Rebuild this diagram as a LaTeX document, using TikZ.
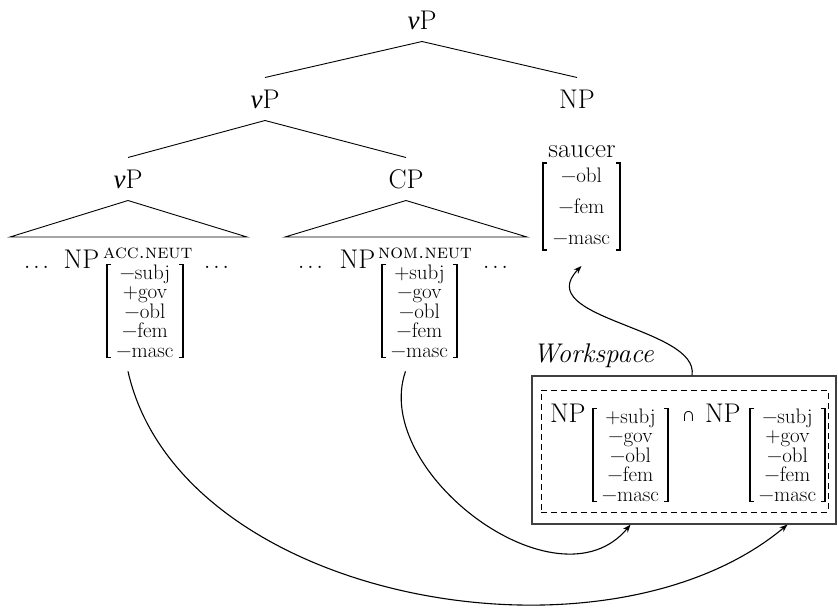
\documentclass[tikz,border=0pt]{standalone}
\usepackage{fontspec}
\newfontfamily\greekfont{Liberation Serif}
\usetikzlibrary{arrows.meta}

\newcommand\mainsz{\fontsize{27}{32}\selectfont}
\newcommand\featsz{\fontsize{21}{19.5}\selectfont}
\newcommand\supsz{\fontsize{20}{24}\selectfont}
\newcommand\littlev{{\greekfont\itshape ν}}
\newcommand\threedots{.\kern2.6pt.\kern2.6pt.}

\tikzset{
  lab/.style={font=\mainsz, inner sep=0pt, outer xsep=0pt, outer ysep=12pt,
    text height=19pt, text depth=0pt},
  txt/.style={font=\mainsz, inner sep=0pt, outer sep=0pt},
  sup/.style={font=\supsz, inner sep=0pt, anchor=base west},
  feat/.style={font=\featsz, align=center, inner sep=0pt, outer sep=0pt},
  branch/.style={line width=0.9pt, line join=miter},
  bracket/.style={line width=1.3pt},
  move/.style={line width=1.1pt, -{Stealth[length=8pt,width=6pt]}},
}

% square brackets drawn round a feature node
\newcommand\bracketsfor[1]{%
  \draw[bracket] ([xshift=4pt]#1.north west) -- (#1.north west)
    -- (#1.south west) -- ([xshift=4pt]#1.south west);
  \draw[bracket] ([xshift=-4pt]#1.north east) -- (#1.north east)
    -- (#1.south east) -- ([xshift=-4pt]#1.south east);}

\begin{document}
\begin{tikzpicture}[x=1pt,y=-1pt]
\useasboundingbox (0,0) rectangle (838,610);

% tree
\node[lab] (vp1) at (422,20) {\littlev P};
\node[lab] (vp2) at (265,99) {\littlev P};
\node[lab] (np2) at (577,99) {NP};
\node[lab] (vp3) at (128,179) {\littlev P};
\node[lab] (cp)  at (406,179) {CP};
\draw[branch] (vp1.south) -- (vp2.north);
\draw[branch] (vp1.south) -- (np2.north);
\draw[branch] (vp2.south) -- (vp3.north);
\draw[branch] (vp2.south) -- (cp.north);
\draw[branch] (vp3.south) -- ++(-118,36.5) -- ++(237,0) -- cycle;
\draw[branch] (cp.south) -- ++(-121,36.5) -- ++(242,0) -- cycle;

% accusative object
\node[txt, anchor=base] (dA1) at (36.5,268) {\threedots};
\node[txt, anchor=base] (npA) at (81.5,268) {NP};
\node[sup] (supA) at (103,258) {\scshape acc.neut};
\node[feat, minimum width=76pt, minimum height=88pt] (fA) at (145,311)
  {−subj\\+gov\\−obl\\−fem\\−masc};
\node[txt, anchor=base] (dA2) at (216.5,268) {\threedots};
\bracketsfor{fA}

% nominative subject
\node[txt, anchor=base] (dN1) at (310.5,268) {\threedots};
\node[txt, anchor=base] (npN) at (357.5,268) {NP};
\node[sup] (supN) at (378,258) {\scshape nom.neut};
\node[feat, minimum width=75pt, minimum height=88pt] (fN) at (419.5,311)
  {+subj\\−gov\\−obl\\−fem\\−masc};
\node[txt, anchor=base] (dN2) at (495.5,268) {\threedots};
\bracketsfor{fN}

% merged noun
\node[txt, anchor=base] (sc) at (582,157) {saucer};
\node[feat, font=\fontsize{21}{31}\selectfont, minimum width=77pt,
  minimum height=87pt] (fS) at (581.5,206.5) {−obl\\−fem\\−masc};
\bracketsfor{fS}

% workspace
\node[draw=black!75, line width=1.2pt, minimum width=304pt,
  minimum height=148pt, inner sep=0pt] (ws) at (684,450) {};
\node[draw, dashed, dash pattern=on 6pt off 4pt, line width=0.9pt,
  minimum width=287pt, minimum height=122pt, inner sep=0pt] (wsd) at (684.5,451) {};
\node[font=\mainsz\itshape, inner sep=0pt, anchor=base west] (wslab) at (533,362) {Workspace};
\node[txt, anchor=base west] (npW1) at (550,422) {NP};
\node[feat, minimum width=75pt, minimum height=90pt] (fW1) at (630.5,455)
  {+subj\\−gov\\−obl\\−fem\\−masc};
\node[font=\fontsize{20}{24}\greekfont, inner sep=0pt, anchor=base] (cap) at (688.5,421) {∩};
\node[txt, anchor=base west] (npW2) at (705,422) {NP};
\node[feat, minimum width=75pt, minimum height=90pt] (fW2) at (787.5,455)
  {−subj\\+gov\\−obl\\−fem\\−masc};
\bracketsfor{fW1}
\bracketsfor{fW2}

% copying into the workspace and merging back
\draw[move] ([xshift=-17pt,yshift=-14pt]fA.south)
  .. controls +(52,230) and +(-183,153) .. (ws.south -| fW2.south);
\draw[move] ([xshift=-14pt,yshift=-14pt]fN.south)
  .. controls +(-35,100) and +(-73,88) .. (ws.south -| fW1.south);
\draw[move] ([xshift=8pt]ws.north)
  .. controls +(8,-48) and +(-52,53) .. ([yshift=-16pt]fS.south);
\end{tikzpicture}
\end{document}
